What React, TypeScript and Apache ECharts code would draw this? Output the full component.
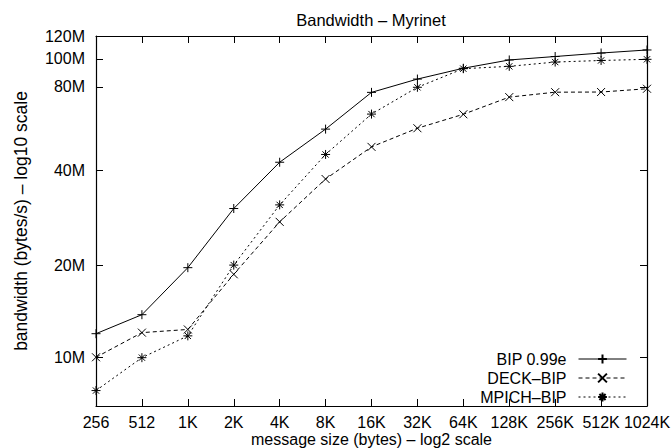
import React, { useEffect, useRef } from 'react';
import * as echarts from 'echarts';

// message sizes (log2 scale categories)
const categories = ['256', '512', '1K', '2K', '4K', '8K', '16K', '32K', '64K', '128K', '256K', '512K', '1024K'];
// bandwidth in MB/s
const bipValues = [12.0, 13.9, 20.0, 31.6, 45.2, 58.4, 77.6, 86.0, 93.5, 99.7, 102.4, 105.2, 107.7];
const deckValues = [10.0, 12.1, 12.4, 19.0, 28.5, 39.7, 50.9, 58.8, 65.5, 74.8, 77.7, 77.8, 79.8];
const mpichValues = [7.73, 9.97, 11.8, 20.4, 32.5, 48.0, 65.6, 80.7, 93.2, 94.9, 98.1, 99.3, 100.2];
// y tick labels and the positions (MB/s) where they sit
const yTickLabels = ['10M', '20M', '40M', '80M', '100M', '120M'];
const yTickValues = [10.0, 20.35, 42.5, 81.0, 100.6, 120.0];
const yMinValue = 6.86;
const yMaxValue = 120.0;
const seriesNames = ['BIP 0.99e', 'DECK\u2013BIP', 'MPICH\u2013BIP'];

const FONT = "'Liberation Sans', Arial, Helvetica, sans-serif";

export default function App() {
  const ref = useRef<HTMLDivElement>(null);
  useEffect(() => {
    document.body.style.margin = '0';
    const chart = echarts.init(ref.current!, null, { renderer: 'svg', width: 671, height: 448 });
    const toLog = (v: number) => Math.log10(v);
    const yTickPos = yTickValues.map(toLog);
    const fmtY = (val: number) => {
      let best = 0;
      let bd = Infinity;
      yTickPos.forEach((p, i) => {
        const d = Math.abs(p - val);
        if (d < bd) { bd = d; best = i; }
      });
      return yTickLabels[best];
    };
    const mk = (name: string, values: number[], symbol: string, size: number, dash: any, z: number) => ({
      name,
      type: 'line',
      data: values.map(toLog),
      symbol,
      symbolSize: size,
      showSymbol: true,
      clip: false,
      z,
      lineStyle: { color: '#000', width: 1, type: dash },
      itemStyle: { color: '#000', borderColor: '#000', borderWidth: 1 },
      emphasis: { disabled: true },
    });
    const axisLine = { show: true, onZero: false, lineStyle: { color: '#000', width: 1.2 } };
    const tick = { show: true, inside: true, length: 7, lineStyle: { color: '#000', width: 1 } };
    chart.setOption({
      animation: false,
      backgroundColor: '#fff',
      textStyle: { fontFamily: FONT },
      grid: { left: 96, right: 24, top: 36, bottom: 42, containLabel: false, outerBoundsMode: 'none' },
      graphic: [
        {
          type: 'text',
          x: 371,
          y: 20,
          style: {
            text: 'Bandwidth \u2013 Myrinet',
            font: "16.5px 'Liberation Sans', Arial, Helvetica, sans-serif",
            fill: '#000',
            align: 'center',
            verticalAlign: 'middle',
          },
        },
      ],
      legend: {
        orient: 'vertical',
        right: 44,
        top: 351,
        padding: 0,
        itemWidth: 48,
        itemHeight: 11,
        itemGap: 3,
        align: 'right',
        selectedMode: false,
        data: seriesNames,
        lineStyle: { width: 1 },
        textStyle: { fontSize: 16, lineHeight: 16, color: '#000', fontFamily: FONT, padding: [0, 7, 0, 0] },
      },
      xAxis: [
        {
          type: 'category',
          data: categories,
          boundaryGap: false,
          position: 'bottom',
          axisLine,
          axisTick: { ...tick, interval: 0 },
          axisLabel: { interval: 0, color: '#000', fontSize: 16, fontFamily: FONT, margin: 8 },
          splitLine: { show: false },
          name: 'message size (bytes) \u2013 log2 scale',
          nameLocation: 'middle',
          nameGap: 25.5,
          nameMoveOverlap: false,
          nameTextStyle: { fontSize: 16, lineHeight: 16, color: '#000', fontFamily: FONT },
        },
        {
          type: 'category',
          data: categories,
          boundaryGap: false,
          position: 'top',
          axisLine,
          axisTick: { ...tick, interval: 0 },
          axisLabel: { show: false },
          splitLine: { show: false },
        },
      ],
      yAxis: [
        {
          type: 'value',
          min: toLog(yMinValue),
          max: toLog(yMaxValue),
          position: 'left',
          axisLine,
          axisTick: { ...tick, customValues: yTickPos },
          axisLabel: { customValues: yTickPos, formatter: fmtY, color: '#000', fontSize: 16, fontFamily: FONT, margin: 11 },
          splitLine: { show: false },
          name: 'bandwidth (bytes/s) \u2013 log10 scale',
          nameLocation: 'middle',
          nameGap: 66,
          nameRotate: 90,
          nameMoveOverlap: false,
          nameTextStyle: { fontSize: 17.5, color: '#000', fontFamily: FONT },
        },
        {
          type: 'value',
          min: toLog(yMinValue),
          max: toLog(yMaxValue),
          position: 'right',
          axisLine,
          axisTick: { ...tick, customValues: yTickPos },
          axisLabel: { show: false },
          splitLine: { show: false },
        },
      ],
      series: [
        mk(seriesNames[0], bipValues, 'path://M5,0L5,10M0,5L10,5', 9, 'solid', 3),
        mk(seriesNames[1], deckValues, 'path://M0,0L10,10M10,0L0,10', 8, [4, 3], 2),
        mk(seriesNames[2], mpichValues, 'path://M5,0L5,10M0,5L10,5M1.5,1.5L8.5,8.5M8.5,1.5L1.5,8.5', 9, [2, 3], 1),
      ],
    });
    return () => chart.dispose();
  }, []);
  return <div ref={ref} style={{ width: 671, height: 448 }} />;
}
